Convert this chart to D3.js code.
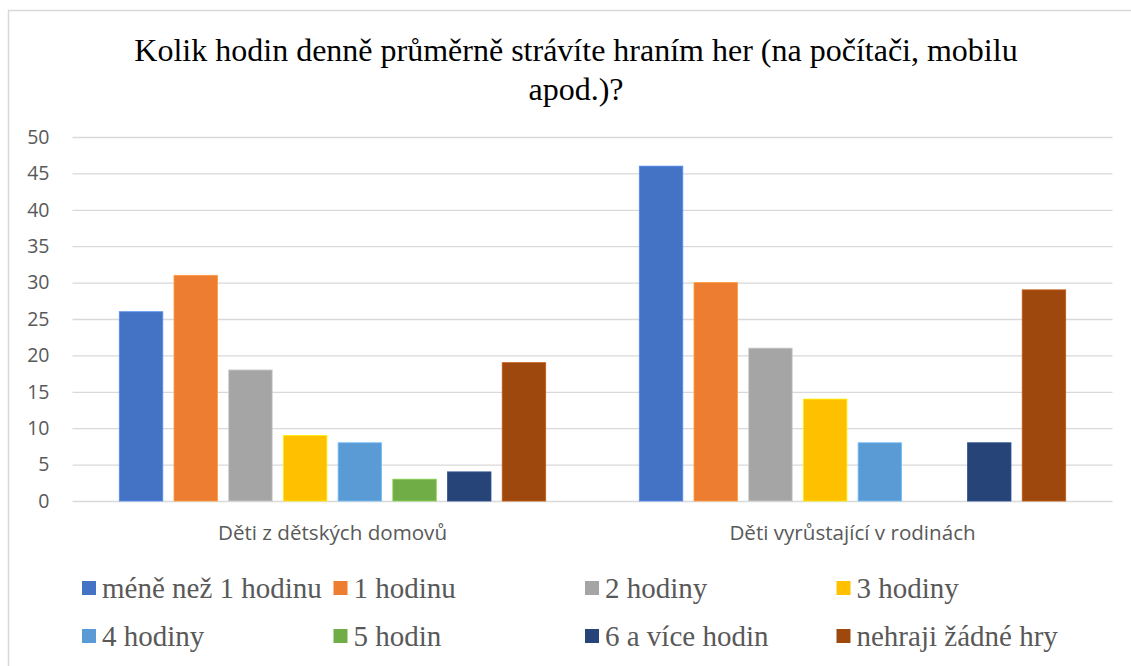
<!DOCTYPE html>
<html>
<head>
<meta charset="utf-8">
<script src="https://cdn.jsdelivr.net/npm/d3@7/dist/d3.min.js"></script>
<style>
  html, body { margin: 0; padding: 0; background: #fff; }
  svg { display: block; }
</style>
</head>
<body>
<svg id="chart" width="1131" height="666"></svg>
<script>
// ---- data ----
const categories = ["Děti z dětských domovů", "Děti vyrůstající v rodinách"];
const seriesNames = ["méně než 1 hodinu", "1 hodinu", "2 hodiny", "3 hodiny", "4 hodiny", "5 hodin", "6 a více hodin", "nehraji žádné hry"];
const valuesDomovy = [26, 31, 18, 9, 8, 3, 4, 19];
const valuesRodiny = [46, 30, 21, 14, 8, 0, 8, 29];
const seriesColors = ["#4472C4", "#ED7D31", "#A5A5A5", "#FFC000", "#5B9BD5", "#70AD47", "#264478", "#9E480E"];
const yTicks = [0, 5, 10, 15, 20, 25, 30, 35, 40, 45, 50];
const titleLines = ["Kolik hodin denně průměrně strávíte hraním her (na počítači, mobilu", "apod.)?"];

const values = [valuesDomovy, valuesRodiny];
const data = categories.map((c, i) => ({
  category: c,
  items: seriesNames.map((s, j) => ({ series: s, value: values[i][j] }))
}));

// ---- layout ----
const svg = d3.select("#chart");
const W = 1131, H = 666;
const plot = { left: 72.5, right: 1112.5, top: 137, bottom: 501 };
const sansFont = "'Open Sans', 'Noto Sans', sans-serif";
const serifFont = "'Liberation Serif', 'Times New Roman', serif";
const gray = "#595959";

// frame
svg.append("rect")
  .attr("x", 8.5).attr("y", 10.5)
  .attr("width", W + 10).attr("height", H + 10)
  .attr("fill", "#fff").attr("stroke", "#d9d9d9").attr("stroke-width", 1.5);

// title
svg.append("g").selectAll("text").data(titleLines).join("text")
  .attr("x", 576).attr("y", (d, i) => 61 + i * 39)
  .attr("text-anchor", "middle")
  .attr("font-family", serifFont).attr("font-size", 32)
  .attr("fill", "#000")
  .text(d => d);

// scales
const y = d3.scaleLinear().domain([0, 50]).range([plot.bottom, plot.top]);
const x0 = d3.scaleBand().domain(categories).range([plot.left, plot.right]).paddingInner(0).paddingOuter(0);
const groupW = 426.4;
const x1 = d3.scaleBand().domain(seriesNames).range([0, groupW]).paddingInner(0.205).paddingOuter(0);
const color = d3.scaleOrdinal().domain(seriesNames).range(seriesColors);

// gridlines + y labels via axis
const yAxis = d3.axisLeft(y).tickValues(yTicks).tickSize(-(plot.right - plot.left)).tickPadding(23);
const gy = svg.append("g").attr("transform", `translate(${plot.left},0)`).call(yAxis);
gy.select(".domain").remove();
gy.selectAll(".tick line").attr("stroke", "#d9d9d9").attr("stroke-width", 1.3);
gy.selectAll(".tick text")
  .attr("font-family", sansFont).attr("font-size", 19.5).attr("fill", gray);

// bars
const groups = svg.append("g").selectAll("g").data(data).join("g")
  .attr("transform", d => `translate(${x0(d.category) + (x0.bandwidth() - groupW) / 2},0)`);
groups.selectAll("rect").data(d => d.items.filter(e => e.value > 0)).join("rect")
  .attr("x", d => x1(d.series))
  .attr("y", d => y(d.value))
  .attr("width", x1.bandwidth())
  .attr("height", d => y(0) - y(d.value))
  .attr("fill", d => color(d.series))
  .attr("stroke", d => d3.color(color(d.series)).brighter(0.6))
  .attr("stroke-width", 0.8);

// category labels via axis
const xAxis = d3.axisBottom(x0).tickSize(0).tickPadding(0);
const gx = svg.append("g").attr("transform", `translate(0,${plot.bottom})`).call(xAxis);
gx.select(".domain").remove();
gx.selectAll(".tick text")
  .attr("y", 38.5).attr("dy", null)
  .attr("font-family", sansFont).attr("font-size", 20.6).attr("fill", gray);

// legend
const legendX = [82, 333.5, 585, 836.5];
const legendY = [588, 636];
const lg = svg.append("g").selectAll("g").data(seriesNames).join("g")
  .attr("transform", (d, i) => `translate(${legendX[i % 4]},${legendY[Math.floor(i / 4)]})`);
lg.append("rect").attr("x", 0).attr("y", -7).attr("width", 14).attr("height", 14)
  .attr("fill", d => color(d));
lg.append("text").attr("x", 20).attr("y", 9.5)
  .attr("font-family", serifFont).attr("font-size", 29).attr("fill", gray)
  .text(d => d);
</script>
</body>
</html>
